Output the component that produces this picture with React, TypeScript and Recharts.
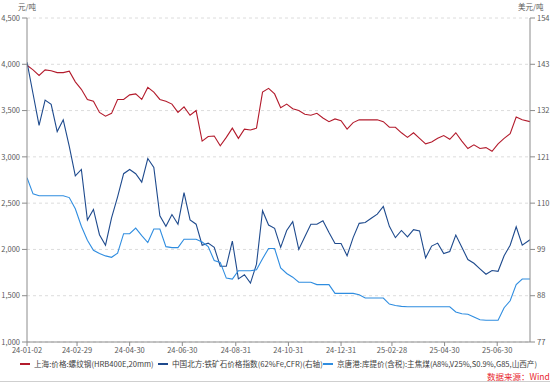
import React from 'react';
import { LineChart, Line, XAxis, YAxis, CartesianGrid } from 'recharts';

// weekly samples
const weekDates = [
  '2024-01-02', '2024-01-09', '2024-01-16', '2024-01-23', '2024-01-30', '2024-02-06', '2024-02-13', '2024-02-20',
  '2024-02-27', '2024-03-05', '2024-03-12', '2024-03-19', '2024-03-26', '2024-04-02', '2024-04-09', '2024-04-16',
  '2024-04-23', '2024-04-30', '2024-05-07', '2024-05-14', '2024-05-21', '2024-05-28', '2024-06-04', '2024-06-11',
  '2024-06-18', '2024-06-25', '2024-07-02', '2024-07-09', '2024-07-16', '2024-07-23', '2024-07-30', '2024-08-06',
  '2024-08-13', '2024-08-20', '2024-08-27', '2024-09-03', '2024-09-10', '2024-09-17', '2024-09-24', '2024-10-01',
  '2024-10-08', '2024-10-15', '2024-10-22', '2024-10-29', '2024-11-05', '2024-11-12', '2024-11-19', '2024-11-26',
  '2024-12-03', '2024-12-10', '2024-12-17', '2024-12-24', '2024-12-31', '2025-01-07', '2025-01-14', '2025-01-21',
  '2025-01-28', '2025-02-04', '2025-02-11', '2025-02-18', '2025-02-25', '2025-03-04', '2025-03-11', '2025-03-18',
  '2025-03-25', '2025-04-01', '2025-04-08', '2025-04-15', '2025-04-22', '2025-04-29', '2025-05-06', '2025-05-13',
  '2025-05-20', '2025-05-27', '2025-06-03', '2025-06-10', '2025-06-17', '2025-06-24', '2025-07-01', '2025-07-08',
  '2025-07-15', '2025-07-22', '2025-07-29', '2025-08-07',
];

// 上海:价格:螺纹钢 (元/吨, left axis)
const rebar = [
  3990, 3940, 3880, 3940, 3930, 3910, 3910, 3925, 3810, 3730, 3620, 3600, 3480, 3440, 3470, 3620,
  3620, 3670, 3680, 3620, 3750, 3700, 3620, 3600, 3570, 3480, 3540, 3450, 3500, 3170, 3220, 3225,
  3120, 3210, 3310, 3200, 3300, 3290, 3310, 3700, 3740, 3680, 3530, 3570, 3520, 3500, 3460, 3450,
  3470, 3420, 3380, 3410, 3390, 3300, 3370, 3400, 3400, 3400, 3400, 3380, 3320, 3320, 3260, 3210,
  3260, 3200, 3140, 3160, 3200, 3230, 3190, 3260, 3170, 3090, 3130, 3090, 3100, 3060, 3140, 3200,
  3250, 3430, 3400, 3380,
];

// 中国北方:铁矿石价格指数 (美元/吨, right axis)
const ironOre = [
  143.5, 136, 128.5, 134.5, 133.5, 127, 129.8, 123.5, 116.5, 118, 106, 108.5, 102.5, 100, 106.5, 111.5,
  117, 118, 117, 115, 120.6, 118.5, 107, 104.5, 107.3, 105, 112.5, 106, 105, 100, 100.5, 99.5,
  95, 95, 101, 92, 93, 91, 95.5, 108.2, 104.8, 104, 99.5, 103.5, 105.6, 99, 102, 105,
  105, 105.8, 103, 100.4, 100.4, 97.5, 101.8, 105.2, 105.4, 106.4, 107.4, 109.2, 104.5, 101.8, 103.5, 102,
  103.7, 103.4, 97, 99.8, 100.5, 98, 98.5, 102.4, 99.5, 96.6, 95.7, 94.4, 93.1, 94, 93.8, 97.5,
  100, 104.4, 100, 101.3,
];

// 京唐港:库提价:主焦煤 (元/吨, left axis)
const cokingCoal = [
  2775, 2600, 2580, 2580, 2580, 2580, 2580, 2560, 2440, 2250, 2100, 1990, 1955, 1930, 1915, 1960,
  2170, 2170, 2230, 2150, 2075, 2220, 2220, 2030, 2020, 2020, 2110, 2110, 2110, 2080, 2030, 1880,
  1860, 1690, 1680, 1770, 1770, 1770, 1780, 1900, 2010, 2010, 1800, 1740, 1700, 1645, 1645, 1645,
  1620, 1620, 1620, 1525, 1525, 1525, 1525, 1510, 1475, 1475, 1475, 1475, 1410, 1395, 1385, 1380,
  1380, 1380, 1380, 1380, 1380, 1380, 1380, 1325, 1305, 1300, 1270, 1240, 1235, 1235, 1235, 1370,
  1445, 1620, 1680, 1680,
];

const xTickDates = [
  '2024-01-02', '2024-02-29', '2024-04-30', '2024-06-30', '2024-08-31',
  '2024-10-31', '2024-12-31', '2025-02-28', '2025-04-30', '2025-06-30',
];
const leftTicks = [1000, 1500, 2000, 2500, 3000, 3500, 4000, 4500];
const rightTicks = [77, 88, 99, 110, 121, 132, 143, 154];

const seriesNames = [
  '上海:价格:螺纹钢(HRB400E,20mm)',
  '中国北方:铁矿石价格指数(62%Fe,CFR)(右轴)',
  '京唐港:库提价(含税):主焦煤(A8%,V25%,S0.9%,G85,山西产)',
];
const seriesColors = ['#b31b2c', '#1e4a8d', '#2f8de0'];

const toTime = (d: string) => Date.parse(d + 'T00:00:00Z');
const pad = (n: number) => String(n).padStart(2, '0');
const formatDate = (t: number) => {
  const d = new Date(t);
  return `${String(d.getUTCFullYear()).slice(2)}-${pad(d.getUTCMonth() + 1)}-${pad(d.getUTCDate())}`;
};

const data = weekDates.map((d, i) => ({
  t: toTime(d),
  rebar: rebar[i],
  ore: ironOre[i],
  coal: cokingCoal[i],
}));

const FONT = '"Noto Sans CJK SC", "Noto Sans", sans-serif';
const tickStyle = { fill: '#595959', fontSize: 7.5, fontFamily: FONT };
const axisColor = '#8c8c8c';

const legendPos = [20, 158, 323];

export default function App() {
  return (
    <div style={{ position: 'absolute', left: 0, top: 0, width: 550, height: 384, background: '#fff', fontFamily: FONT }}>
      <LineChart width={550} height={384} data={data} margin={{ top: 18, right: 0, bottom: 24, left: 0 }}>
        <CartesianGrid yAxisId="left" vertical={false} stroke="#dcdcdc" strokeDasharray="3 3" />
        <XAxis
          dataKey="t"
          type="number"
          scale="time"
          domain={[toTime(weekDates[0]), toTime(weekDates[weekDates.length - 1])]}
          ticks={xTickDates.map(toTime)}
          tickFormatter={formatDate}
          tick={tickStyle}
          tickSize={4}
          tickMargin={2}
          height={18}
          stroke={axisColor}
          interval={0}
          allowDataOverflow
        />
        <YAxis
          yAxisId="left"
          domain={[1000, 4500]}
          ticks={leftTicks}
          tickFormatter={(v: number) => v.toLocaleString('en-US')}
          tick={tickStyle}
          tickSize={5}
          tickMargin={2}
          width={27}
          stroke={axisColor}
          interval={0}
        />
        <YAxis
          yAxisId="right"
          orientation="right"
          domain={[77, 154]}
          ticks={rightTicks}
          tick={tickStyle}
          tickSize={5}
          tickMargin={2}
          width={20}
          stroke={axisColor}
          interval={0}
        />
        <Line yAxisId="left" dataKey="rebar" stroke={seriesColors[0]} strokeWidth={1.1} dot={false} isAnimationActive={false} />
        <Line yAxisId="right" dataKey="ore" stroke={seriesColors[1]} strokeWidth={1.1} dot={false} isAnimationActive={false} />
        <Line yAxisId="left" dataKey="coal" stroke={seriesColors[2]} strokeWidth={1.1} dot={false} isAnimationActive={false} />
      </LineChart>

      <div style={{ position: 'absolute', left: 18, top: 1, fontSize: 7.5, color: '#595959' }}>元/吨</div>
      <div style={{ position: 'absolute', left: 518, top: 1, fontSize: 7.5, color: '#595959', whiteSpace: 'nowrap' }}>美元/吨</div>

      {seriesNames.map((name, i) => (
        <div
          key={name}
          style={{
            position: 'absolute',
            left: legendPos[i],
            top: 358,
            display: 'flex',
            alignItems: 'center',
            fontSize: 7.6,
            color: '#404040',
            whiteSpace: 'nowrap',
          }}
        >
          <span style={{ display: 'inline-block', width: 10, height: 2, background: seriesColors[i], marginRight: 4 }} />
          {name}
        </div>
      ))}

      <div style={{ position: 'absolute', left: 487, top: 370, fontSize: 8.5, color: '#e8262d', whiteSpace: 'nowrap' }}>
        数据来源：Wind
      </div>
      <div style={{ position: 'absolute', left: 0, top: 381, width: 550, height: 1, background: '#cfcfcf' }} />
    </div>
  );
}
